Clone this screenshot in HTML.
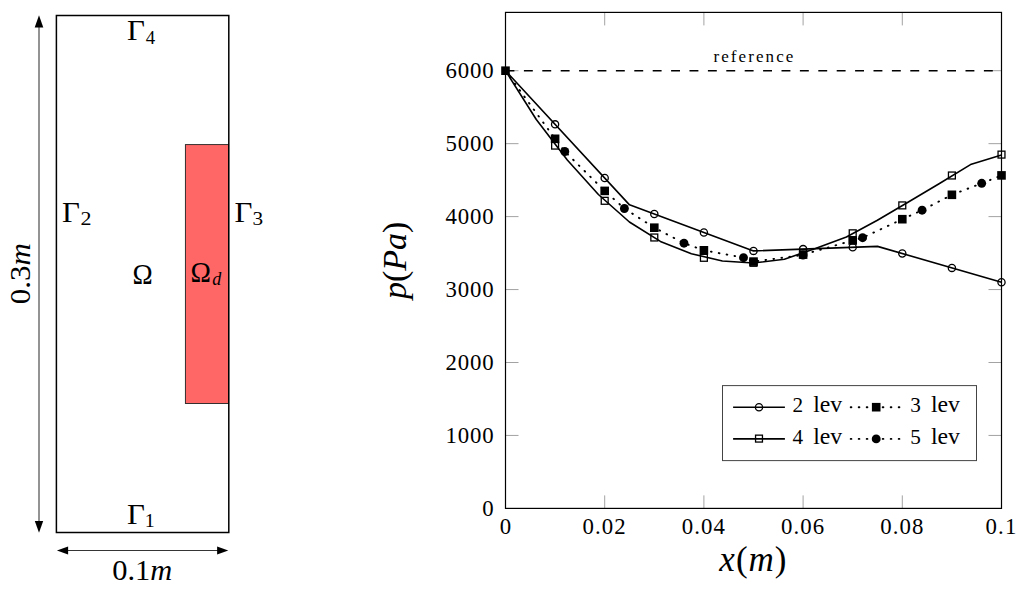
<!DOCTYPE html>
<html><head><meta charset="utf-8"><title>figure</title>
<style>
html,body{margin:0;padding:0;background:#fff;width:1025px;height:590px;overflow:hidden}
svg{display:block}
text{font-family:"Liberation Serif",serif;fill:#000}
.it{font-style:italic}
</style></head><body>
<svg width="1025" height="590" viewBox="0 0 1025 590">

<rect x="185.4" y="144.6" width="43.2" height="258.9" fill="#ff6666" stroke="#222" stroke-width="0.9"/>
<rect x="56.4" y="15.5" width="172.4" height="517" fill="none" stroke="#000" stroke-width="1.5"/>
<line x1="39" y1="25" x2="39" y2="523" stroke="#000" stroke-width="0.85"/>
<path d="M39,15.3 L43.3,27.6 L34.7,27.6 Z" fill="#000"/>
<path d="M39,532.8 L43.2,520.9 L34.8,520.9 Z" fill="#000"/>
<line x1="66" y1="550.5" x2="219" y2="550.5" stroke="#111" stroke-width="0.85"/>
<path d="M56.9,550.5 L68.1,546.5 L68.1,554.5 Z" fill="#000"/>
<path d="M228.3,550.5 L217.1,546.5 L217.1,554.5 Z" fill="#000"/>
<text x="126.9" y="40.4" font-size="28.5" textLength="17.9" lengthAdjust="spacingAndGlyphs">&#915;</text>
<text x="145.8" y="43.7" font-size="19" textLength="9.4" lengthAdjust="spacingAndGlyphs">4</text>
<text x="62.1" y="221.8" font-size="28.5" textLength="17.9" lengthAdjust="spacingAndGlyphs">&#915;</text>
<text x="80.6" y="225.1" font-size="19" textLength="11" lengthAdjust="spacingAndGlyphs">2</text>
<text x="234.4" y="221.8" font-size="28.5" textLength="17.9" lengthAdjust="spacingAndGlyphs">&#915;</text>
<text x="252.6" y="225.1" font-size="19" textLength="10.6" lengthAdjust="spacingAndGlyphs">3</text>
<text x="126.9" y="524.0" font-size="28.5" textLength="17.9" lengthAdjust="spacingAndGlyphs">&#915;</text>
<text x="144.7" y="527.3" font-size="19" textLength="10" lengthAdjust="spacingAndGlyphs">1</text>
<text x="132.4" y="283.8" font-size="29.5" textLength="20.2" lengthAdjust="spacingAndGlyphs">&#937;</text>
<text x="190.6" y="281.8" font-size="29" textLength="20.4" lengthAdjust="spacingAndGlyphs">&#937;</text>
<text x="212.3" y="285" font-size="18" class="it">d</text>
<text x="112.2" y="579.6" font-size="28.5" textLength="60" lengthAdjust="spacingAndGlyphs">0.1<tspan class="it">m</tspan></text>
<text transform="translate(30.1,304.2) rotate(-90)" font-size="28.8" textLength="61" lengthAdjust="spacingAndGlyphs">0.3<tspan class="it">m</tspan></text>
<line x1="505.5" y1="435.45" x2="518.5" y2="435.45" stroke="#999" stroke-width="0.9"/>
<line x1="988.5" y1="435.45" x2="1001.5" y2="435.45" stroke="#999" stroke-width="0.9"/>
<line x1="505.5" y1="362.5" x2="518.5" y2="362.5" stroke="#999" stroke-width="0.9"/>
<line x1="988.5" y1="362.5" x2="1001.5" y2="362.5" stroke="#999" stroke-width="0.9"/>
<line x1="505.5" y1="289.55" x2="518.5" y2="289.55" stroke="#999" stroke-width="0.9"/>
<line x1="988.5" y1="289.55" x2="1001.5" y2="289.55" stroke="#999" stroke-width="0.9"/>
<line x1="505.5" y1="216.6" x2="518.5" y2="216.6" stroke="#999" stroke-width="0.9"/>
<line x1="988.5" y1="216.6" x2="1001.5" y2="216.6" stroke="#999" stroke-width="0.9"/>
<line x1="505.5" y1="143.65" x2="518.5" y2="143.65" stroke="#999" stroke-width="0.9"/>
<line x1="988.5" y1="143.65" x2="1001.5" y2="143.65" stroke="#999" stroke-width="0.9"/>
<line x1="505.5" y1="70.7" x2="518.5" y2="70.7" stroke="#999" stroke-width="0.9"/>
<line x1="988.5" y1="70.7" x2="1001.5" y2="70.7" stroke="#999" stroke-width="0.9"/>
<line x1="604.7" y1="508.4" x2="604.7" y2="495.4" stroke="#999" stroke-width="0.9"/>
<line x1="604.7" y1="12.4" x2="604.7" y2="25.4" stroke="#999" stroke-width="0.9"/>
<line x1="703.9" y1="508.4" x2="703.9" y2="495.4" stroke="#999" stroke-width="0.9"/>
<line x1="703.9" y1="12.4" x2="703.9" y2="25.4" stroke="#999" stroke-width="0.9"/>
<line x1="803.1" y1="508.4" x2="803.1" y2="495.4" stroke="#999" stroke-width="0.9"/>
<line x1="803.1" y1="12.4" x2="803.1" y2="25.4" stroke="#999" stroke-width="0.9"/>
<line x1="902.3" y1="508.4" x2="902.3" y2="495.4" stroke="#999" stroke-width="0.9"/>
<line x1="902.3" y1="12.4" x2="902.3" y2="25.4" stroke="#999" stroke-width="0.9"/>
<text x="494.6" y="515.8" font-size="22.8" text-anchor="end" letter-spacing="0.85">0</text>
<text x="494.6" y="442.85" font-size="22.8" text-anchor="end" letter-spacing="0.85">1000</text>
<text x="494.6" y="369.9" font-size="22.8" text-anchor="end" letter-spacing="0.85">2000</text>
<text x="494.6" y="296.95" font-size="22.8" text-anchor="end" letter-spacing="0.85">3000</text>
<text x="494.6" y="224" font-size="22.8" text-anchor="end" letter-spacing="0.85">4000</text>
<text x="494.6" y="151.05" font-size="22.8" text-anchor="end" letter-spacing="0.85">5000</text>
<text x="494.6" y="78.1" font-size="22.8" text-anchor="end" letter-spacing="0.85">6000</text>
<text x="505.5" y="533.6" font-size="22.8" text-anchor="middle" letter-spacing="0">0</text>
<text x="604.7" y="533.6" font-size="22.8" text-anchor="middle" letter-spacing="1.1">0.02</text>
<text x="703.9" y="533.6" font-size="22.8" text-anchor="middle" letter-spacing="1.1">0.04</text>
<text x="803.1" y="533.6" font-size="22.8" text-anchor="middle" letter-spacing="1.1">0.06</text>
<text x="902.3" y="533.6" font-size="22.8" text-anchor="middle" letter-spacing="1.1">0.08</text>
<text x="1001.5" y="533.6" font-size="22.8" text-anchor="middle" letter-spacing="1.1">0.1</text>
<text x="753.4" y="571.3" font-size="35" text-anchor="middle" class="it" letter-spacing="1">x<tspan font-style="normal">(</tspan>m<tspan font-style="normal">)</tspan></text>
<text transform="translate(405.9,260.4) rotate(-90)" font-size="34" text-anchor="middle" class="it">p<tspan font-style="normal">(</tspan>Pa<tspan font-style="normal">)</tspan></text>
<line x1="505.5" y1="70.7" x2="1001.5" y2="70.7" stroke="#000" stroke-width="1.4" stroke-dasharray="8.9 9.5"/>
<text x="713.4" y="62" font-size="17" letter-spacing="2.1">reference</text>
<polyline points="505.5,70.7 555.1,138.8 564.8,151.5 604.7,190.9 624.4,208.5 654.3,227.7 684,243.2 703.9,250.3 743.5,257.7 753.5,261.6 803,255 803.1,254.6 852.7,240.5 862.6,237.7 902.3,219.2 922.1,210.2 951.9,194.8 981.7,183.3 1001.5,175.4" fill="none" stroke="#000" stroke-width="1.9" stroke-linecap="round" stroke-dasharray="0.7 7.3"/>
<polyline points="505.5,70.7 629.5,204.86 753.5,250.89 877.5,246.36 1001.5,282.25" fill="none" stroke="#000" stroke-width="1.6" stroke-linejoin="round"/>
<polyline points="505.5,70.7 536.3,119.5 567.3,160 598.4,194.5 629.4,222 660.4,241.4 691.4,253.7 722.4,261 753.4,263 784.4,259.2 815.4,248.5 846.4,237 877.4,220.2 908.4,202 939.5,183.5 970.5,164.6 1001.5,155.1" fill="none" stroke="#000" stroke-width="1.6" stroke-linejoin="round"/>
<circle cx="555.1" cy="124.36" r="3.6" fill="none" stroke="#000" stroke-width="1.3"/>
<circle cx="604.7" cy="178.02" r="3.6" fill="none" stroke="#000" stroke-width="1.3"/>
<circle cx="654.3" cy="214.06" r="3.6" fill="none" stroke="#000" stroke-width="1.3"/>
<circle cx="703.9" cy="232.47" r="3.6" fill="none" stroke="#000" stroke-width="1.3"/>
<circle cx="753.5" cy="250.89" r="3.6" fill="none" stroke="#000" stroke-width="1.3"/>
<circle cx="803.1" cy="249.08" r="3.6" fill="none" stroke="#000" stroke-width="1.3"/>
<circle cx="852.7" cy="247.27" r="3.6" fill="none" stroke="#000" stroke-width="1.3"/>
<circle cx="902.3" cy="253.54" r="3.6" fill="none" stroke="#000" stroke-width="1.3"/>
<circle cx="951.9" cy="267.9" r="3.6" fill="none" stroke="#000" stroke-width="1.3"/>
<circle cx="1001.5" cy="282.25" r="3.6" fill="none" stroke="#000" stroke-width="1.3"/>
<rect x="551.65" y="142.15" width="6.9" height="6.9" fill="none" stroke="#000" stroke-width="1.3"/>
<rect x="601.25" y="197.35" width="6.9" height="6.9" fill="none" stroke="#000" stroke-width="1.3"/>
<rect x="650.85" y="234.05" width="6.9" height="6.9" fill="none" stroke="#000" stroke-width="1.3"/>
<rect x="700.45" y="254.35" width="6.9" height="6.9" fill="none" stroke="#000" stroke-width="1.3"/>
<rect x="750.05" y="259.35" width="6.9" height="6.9" fill="none" stroke="#000" stroke-width="1.3"/>
<rect x="799.65" y="249.35" width="6.9" height="6.9" fill="none" stroke="#000" stroke-width="1.3"/>
<rect x="849.25" y="229.85" width="6.9" height="6.9" fill="none" stroke="#000" stroke-width="1.3"/>
<rect x="898.85" y="201.95" width="6.9" height="6.9" fill="none" stroke="#000" stroke-width="1.3"/>
<rect x="948.45" y="172.05" width="6.9" height="6.9" fill="none" stroke="#000" stroke-width="1.3"/>
<rect x="998.05" y="151.15" width="6.9" height="6.9" fill="none" stroke="#000" stroke-width="1.3"/>
<circle cx="564.8" cy="151.5" r="4.45" fill="#000"/>
<circle cx="624.4" cy="208.5" r="4.45" fill="#000"/>
<circle cx="684" cy="243.2" r="4.45" fill="#000"/>
<circle cx="743.5" cy="257.7" r="4.45" fill="#000"/>
<circle cx="803" cy="255" r="4.45" fill="#000"/>
<circle cx="862.6" cy="237.7" r="4.45" fill="#000"/>
<circle cx="922.1" cy="210.2" r="4.45" fill="#000"/>
<circle cx="981.7" cy="183.3" r="4.45" fill="#000"/>
<rect x="501.2" y="66.4" width="8.6" height="8.6" fill="#000"/>
<rect x="550.8" y="134.5" width="8.6" height="8.6" fill="#000"/>
<rect x="600.4" y="186.6" width="8.6" height="8.6" fill="#000"/>
<rect x="650" y="223.4" width="8.6" height="8.6" fill="#000"/>
<rect x="699.6" y="246" width="8.6" height="8.6" fill="#000"/>
<rect x="749.2" y="257.3" width="8.6" height="8.6" fill="#000"/>
<rect x="798.8" y="250.3" width="8.6" height="8.6" fill="#000"/>
<rect x="848.4" y="236.2" width="8.6" height="8.6" fill="#000"/>
<rect x="898" y="214.9" width="8.6" height="8.6" fill="#000"/>
<rect x="947.6" y="190.5" width="8.6" height="8.6" fill="#000"/>
<rect x="997.2" y="171.1" width="8.6" height="8.6" fill="#000"/>
<rect x="505.5" y="12.4" width="496" height="496" fill="none" stroke="#000" stroke-width="1.2"/>
<rect x="722.5" y="385.6" width="254" height="75" fill="#fff" stroke="#444" stroke-width="1"/>
<line x1="733.1" y1="407.2" x2="784.9" y2="407.2" stroke="#000" stroke-width="1.6"/>
<circle cx="759" cy="407.2" r="3.6" fill="none" stroke="#000" stroke-width="1.3"/>
<line x1="733.1" y1="438.9" x2="784.9" y2="438.9" stroke="#000" stroke-width="1.6"/>
<rect x="755.55" y="435.15" width="6.9" height="6.9" fill="none" stroke="#000" stroke-width="1.3"/>
<line x1="850.7" y1="407.2" x2="900" y2="407.2" fill="none" stroke="#000" stroke-width="1.9" stroke-linecap="round" stroke-dasharray="0.7 7.3"/>
<rect x="871.9" y="402.9" width="8.6" height="8.6" fill="#000"/>
<line x1="850.7" y1="438.9" x2="900" y2="438.9" fill="none" stroke="#000" stroke-width="1.9" stroke-linecap="round" stroke-dasharray="0.7 7.3"/>
<circle cx="876.2" cy="438.9" r="4.45" fill="#000"/>
<text x="792.6" y="412.3" font-size="21.5" textLength="10.6" lengthAdjust="spacingAndGlyphs">2</text>
<text x="813.2" y="412.3" font-size="22.4" textLength="29" lengthAdjust="spacingAndGlyphs">lev</text>
<text x="792.6" y="444" font-size="21.5" textLength="10.6" lengthAdjust="spacingAndGlyphs">4</text>
<text x="813.2" y="444" font-size="22.4" textLength="29" lengthAdjust="spacingAndGlyphs">lev</text>
<text x="910.3" y="412.3" font-size="21.5" textLength="10.6" lengthAdjust="spacingAndGlyphs">3</text>
<text x="930.9" y="412.3" font-size="22.4" textLength="29" lengthAdjust="spacingAndGlyphs">lev</text>
<text x="910.3" y="444" font-size="21.5" textLength="10.6" lengthAdjust="spacingAndGlyphs">5</text>
<text x="930.9" y="444" font-size="22.4" textLength="29" lengthAdjust="spacingAndGlyphs">lev</text>
</svg>
</body></html>
